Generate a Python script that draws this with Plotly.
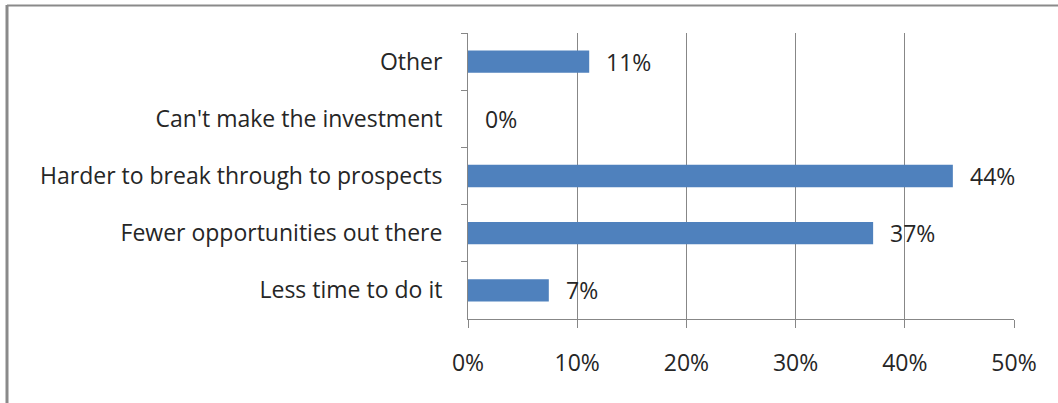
import plotly.graph_objects as go

# Survey responses, listed top to bottom
categories = [
    "Other",
    "Can't make the investment",
    "Harder to break through to prospects",
    "Fewer opportunities out there",
    "Less time to do it",
]
shares = [11.1, 0.0, 44.4, 37.1, 7.4]  # percent of respondents
x_ticks = [0, 10, 20, 30, 40, 50]
x_tick_labels = [f"{t}%" for t in x_ticks]

FONT = "Open Sans"
FSIZE = 23
TEXT = "#262626"
GRID = "#878787"
BAR = "#4F81BD"

W, H = 1058, 403
L, R, T, B = 468, 44, 33, 84
pw, ph = W - L - R, H - T - B

fig = go.Figure(
    go.Bar(
        x=shares,
        y=categories,
        orientation="h",
        marker=dict(color=BAR, line=dict(width=0)),
        hoverinfo="skip",
    )
)

# value labels just right of each bar end
for c, v in zip(categories, shares):
    fig.add_annotation(
        x=v, y=c, text=f"{v:.0f}%", showarrow=False,
        xanchor="left", yanchor="middle", xshift=15,
        font=dict(family=FONT, size=FSIZE, color=TEXT),
    )

# outer frame: top and left edges
def px_to_paper_x(px):
    return (px - L) / pw

def px_to_paper_y(py):
    return 1 - (py - T) / ph

fig.add_shape(type="line", xref="paper", yref="paper",
              x0=px_to_paper_x(7), x1=px_to_paper_x(1070),
              y0=px_to_paper_y(5.5), y1=px_to_paper_y(5.5),
              line=dict(color="#8a8a8a", width=2))
fig.add_shape(type="line", xref="paper", yref="paper",
              x0=px_to_paper_x(7), x1=px_to_paper_x(7),
              y0=px_to_paper_y(5), y1=px_to_paper_y(420),
              line=dict(color="#8a8a8a", width=3))

fig.update_layout(
    width=W, height=H,
    margin=dict(l=L, r=R, t=T, b=B, pad=0),
    paper_bgcolor="white", plot_bgcolor="white",
    bargap=0.61,
    showlegend=False,
    font=dict(family=FONT, size=FSIZE, color=TEXT),
    xaxis=dict(
        range=[0, 50], tickvals=x_ticks, ticktext=x_tick_labels,
        showgrid=True, gridcolor=GRID, gridwidth=1,
        showline=True, linecolor=GRID, linewidth=1,
        ticks="outside", ticklen=8, tickcolor=GRID,
        zeroline=False, fixedrange=True,
        ticklabelstandoff=15,
        tickfont=dict(family=FONT, size=FSIZE, color=TEXT),
    ),
    yaxis=dict(
        autorange="reversed",
        showgrid=False, showline=True, linecolor=GRID, linewidth=1,
        ticks="outside", ticklen=6, tickcolor=GRID, tickson="boundaries",
        ticklabelstandoff=20,
        tickfont=dict(family=FONT, size=FSIZE, color=TEXT),
        fixedrange=True,
    ),
)

fig.write_html("out.html")
